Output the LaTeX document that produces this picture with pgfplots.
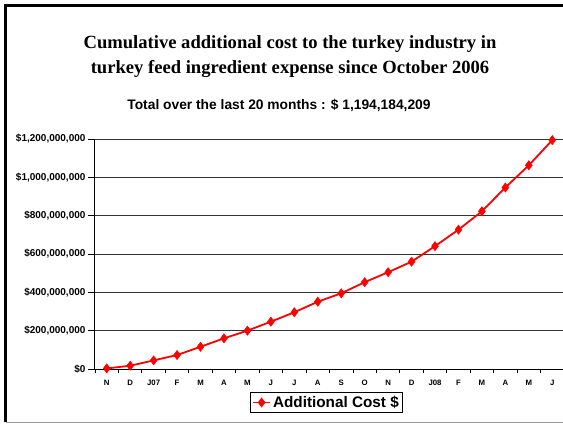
\documentclass[border=0pt]{standalone}
\usepackage{pgfplots}
\pgfplotsset{compat=1.18}
\usepackage{fontspec}
\setmainfont{Liberation Sans}
\newfontfamily\timesfont{Liberation Serif}
\begin{document}
\begin{tikzpicture}[x=1pt,y=1pt]
\useasboundingbox (0,0) rectangle (563,424);
% outer frame
\draw[black, line width=2.2pt] (5.5,2) -- (5.5,418.5) -- (563,418.5);
\draw[black!40, line width=1pt] (5.5,1.5) -- (563,1.5);
% titles
\node[font=\timesfont\bfseries\fontsize{18.6}{25}\selectfont, align=center, anchor=base]
  at (290,350) {Cumulative additional cost to the turkey industry in\\turkey feed ingredient expense since October 2006};
\node[font=\bfseries\fontsize{13.8}{15}\selectfont, anchor=base] at (279,314)
  {Total over the last 20 months : \$ 1,194,184,209};
\begin{axis}[
  at={(95pt,55pt)}, anchor=south west,
  scale only axis, width=469pt, height=230pt,
  xmin=-0.5, xmax=19.5, ymin=0, ymax=1200000000,
  scaled y ticks=false,
  axis x line=bottom, axis y line=left,
  axis line style={-, black, line width=1pt},
  xtick={0,...,19},
  xticklabels={N,D,J07,F,M,A,M,J,J,A,S,O,N,D,J08,F,M,A,M,J},
  minor xtick={-0.5,0.5,...,19.5},
  major x tick style={draw=none},
  minor x tick style={black, line width=0.8pt},
  minor tick length=4pt,
  ytick={0,200000000,400000000,600000000,800000000,1000000000,1200000000},
  yticklabels={\$0,{\$200,000,000},{\$400,000,000},{\$600,000,000},{\$800,000,000},{\$1,000,000,000},{\$1,200,000,000}},
  major tick length=7pt,
  y tick style={black, line width=0.8pt},
  tick align=outside,
  ymajorgrids,
  major grid style={black!80, line width=1pt},
  x tick label style={font=\bfseries\fontsize{7.8}{8}\selectfont, yshift=-1pt},
  y tick label style={font=\bfseries\fontsize{10}{11}\selectfont, xshift=1pt},
  legend style={at={(0.4936,-0.1457)}, anchor=center, draw=black, line width=1pt,
    font=\bfseries\fontsize{15.3}{16}\selectfont, inner sep=1.5pt},
  clip=false,
]
\addplot[red, line width=1.8pt, mark=diamond*, mark size=4.6pt, mark options={fill=red, draw=red, line width=0.5pt}]
coordinates {
(0,3000000) (1,17000000) (2,45000000) (3,73000000) (4,116000000)
(5,160000000) (6,200000000) (7,247000000) (8,296000000) (9,351000000)
(10,395000000) (11,453000000) (12,505000000) (13,560000000) (14,641000000)
(15,727000000) (16,823000000) (17,947000000) (18,1063000000) (19,1194184209)
};
\addlegendentry{Additional Cost \$}
\end{axis}
\end{tikzpicture}
\end{document}
